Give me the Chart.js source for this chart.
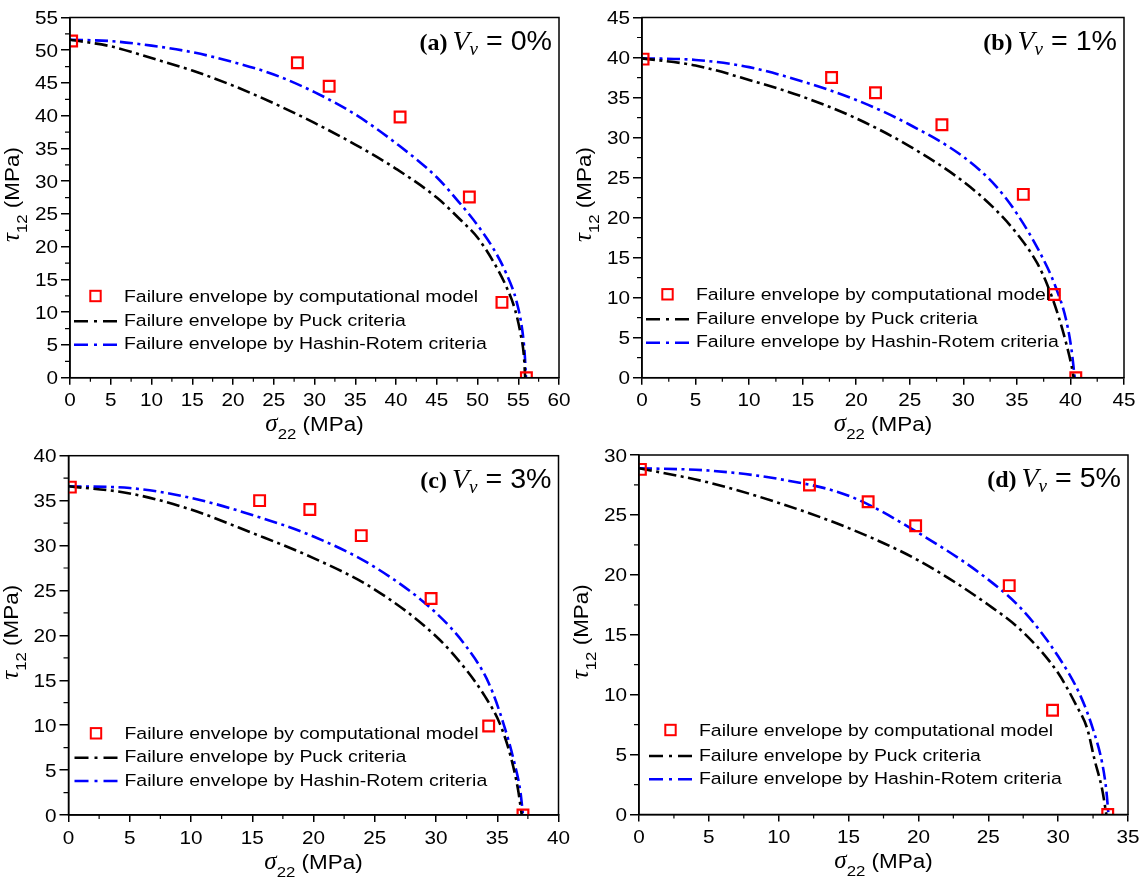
<!DOCTYPE html>
<html lang="en">
<head>
<meta charset="UTF-8">
<title>Failure envelopes for different void contents</title>
<script src="https://cdn.jsdelivr.net/npm/chart.js"></script>
<style>
  body { margin: 0; background: #fff; width: 1146px; height: 877px; overflow: hidden; position: relative; }
  canvas { position: absolute; }
</style>
</head>
<body>
<canvas id="ca"></canvas>
<canvas id="cb"></canvas>
<canvas id="cc"></canvas>
<canvas id="cd"></canvas>
<script>
// ---------------- data ----------------
const panelTags = ['(a)', '(b)', '(c)', '(d)'];
const voidLabels = ['0%', '1%', '3%', '5%'];
const xMax = [60, 45, 40, 35];
const yMax = [55, 45, 40, 30];
const tickStep = 5;
const seriesLabels = [
    'Failure envelope by computational model',
    'Failure envelope by Puck criteria',
    'Failure envelope by Hashin-Rotem criteria'
];

// (a) Vv = 0%
const aModelX = [0.2, 27.9, 31.8, 40.5, 49.0, 53.0, 56.0];
const aModelY = [51.4, 48.1, 44.5, 39.8, 27.6, 11.5, 0];
const aPuckX = [0, 5, 10, 15, 20, 25, 30, 35, 40, 45, 48, 50, 52, 53.5, 54.6, 55.3, 55.7, 55.85];
const aPuckY = [51.6, 50.6, 48.8, 46.9, 44.6, 41.9, 38.9, 35.6, 31.9, 27.5, 24.0, 21.4, 17.6, 14.0, 10.4, 6.6, 3.2, 0];
const aHashinX = [0, 5, 10, 15, 20, 25, 30, 35, 40, 45, 48, 50, 52, 53.5, 54.8, 55.5, 55.8, 55.95];
const aHashinY = [51.6, 51.4, 50.7, 49.7, 48.2, 46.3, 43.6, 40.2, 35.8, 30.6, 26.4, 23.3, 19.6, 16.0, 11.6, 7.2, 3.5, 0];

// (b) Vv = 1%
const bModelX = [0.1, 17.7, 21.8, 28.0, 35.6, 38.5, 40.5];
const bModelY = [39.8, 37.5, 35.6, 31.6, 22.9, 10.4, 0];
const bPuckX = [0, 5, 10, 15, 20, 25, 30, 33, 35, 36.9, 37.9, 38.9, 39.6, 40.1, 40.3];
const bPuckY = [39.9, 39.0, 37.2, 35.1, 32.4, 28.9, 24.5, 21.0, 18.0, 14.3, 11.4, 7.6, 4.3, 1.5, 0];
const bHashinX = [0, 5, 10, 15, 20, 25, 30, 33, 35, 37.2, 38.6, 39.6, 40.1, 40.4];
const bHashinY = [39.9, 39.7, 38.8, 37.0, 34.7, 31.6, 27.6, 24.0, 20.5, 15.5, 11.4, 7.2, 3.5, 0];

// (c) Vv = 3%
const cModelX = [0.15, 15.6, 19.7, 23.9, 29.6, 34.3, 37.1];
const cModelY = [36.5, 35.0, 34.0, 31.1, 24.1, 9.9, 0];
const cPuckX = [0, 5, 10, 15, 20, 25, 30, 32.5, 34, 35.2, 36.1, 36.7, 37.0];
const cPuckY = [36.6, 35.8, 34.0, 31.4, 28.6, 25.1, 19.9, 16.1, 13.2, 10.2, 6.5, 2.8, 0];
const cHashinX = [0, 5, 10, 15, 20, 25, 30, 32.5, 34.3, 35.5, 36.4, 36.9, 37.1];
const cHashinY = [36.6, 36.4, 35.3, 33.4, 31.0, 27.6, 22.5, 18.7, 14.7, 10.2, 5.8, 2.5, 0];

// (d) Vv = 5%
const dModelX = [0.1, 12.2, 16.4, 19.8, 26.5, 29.6, 33.55];
const dModelY = [28.8, 27.5, 26.1, 24.1, 19.1, 8.7, 0];
const dPuckX = [0, 5, 10, 15, 20, 25, 27.5, 30, 31.3, 32.1, 32.6, 33.15, 33.45];
const dPuckY = [28.9, 27.7, 26.0, 23.9, 21.2, 17.5, 15.2, 11.8, 9.1, 7.1, 4.6, 2.1, 0];
const dHashinX = [0, 5, 10, 15, 20, 25, 27.5, 30, 31.6, 32.5, 33.15, 33.45, 33.6];
const dHashinY = [28.9, 28.7, 28.0, 26.6, 23.5, 19.6, 17.0, 13.2, 9.9, 7.1, 4.3, 2.0, 0];

// ---------------- layout & style ----------------
const FONT_SANS = '"Liberation Sans", Arial, sans-serif';
const FONT_SERIF = '"Liberation Serif", "Times New Roman", serif';
const TEXT_SX = 1.12;   // the figure's lettering is a bit wide

// canvas box on the page and wanted plot area [left, top, right, bottom] in page px
// (top canvases run a little into the lower row so the x-title subscript is not cut; canvases are transparent)
const boxes = [
    { id: 'ca', left: 0,   top: 0,   width: 573, height: 450, plot: [70, 17.5, 559, 377.7],  legendDx: 0, legendRows: [-81.7, -57.5, -34] },
    { id: 'cb', left: 573, top: 0,   width: 573, height: 450, plot: [642, 17.5, 1124, 377.7], legendDx: 0, legendRows: [-83.4, -59.4, -36] },
    { id: 'cc', left: 0,   top: 438, width: 573, height: 439, plot: [68.5, 455.7, 558.5, 815], legendDx: 2, legendRows: [-81.7, -58.3, -35] },
    { id: 'cd', left: 573, top: 438, width: 573, height: 439, plot: [639, 455, 1128, 814.5],  legendDx: 6, legendRows: [-84.5, -59.5, -36.2] }
];

const panels = [
    [aModelX, aModelY, aPuckX, aPuckY, aHashinX, aHashinY],
    [bModelX, bModelY, bPuckX, bPuckY, bHashinX, bHashinY],
    [cModelX, cModelY, cPuckX, cPuckY, cHashinX, cHashinY],
    [dModelX, dModelY, dPuckX, dPuckY, dHashinX, dHashinY]
];

function zip(xs, ys) {
    return xs.map((x, i) => ({ x: x, y: ys[i] }));
}

// draws a run of text pieces, each with its own font, horizontal stretch and baseline shift
function drawRich(ctx, pieces, x, y, align) {
    let total = 0;
    pieces.forEach(p => {
        ctx.font = p.font;
        p.w = ctx.measureText(p.t).width * (p.sx || 1);
        total += p.w;
    });
    let cx = align === 'right' ? x - total : (align === 'center' ? x - total / 2 : x);
    pieces.forEach(p => {
        ctx.save();
        ctx.font = p.font;
        ctx.translate(cx, y + (p.dy || 0));
        ctx.scale(p.sx || 1, 1);
        ctx.fillText(p.t, 0, 0);
        ctx.restore();
        cx += p.w;
    });
}

const sans = s => s + 'px ' + FONT_SANS;

const decorPlugin = {
    id: 'decor',
    afterDraw(chart, args, opts) {
        const i = opts.panel;
        const box = boxes[i];
        const ctx = chart.ctx;
        const a = chart.chartArea;
        const xs = chart.scales.x, ys = chart.scales.y;
        ctx.save();
        ctx.fillStyle = '#000';
        ctx.strokeStyle = '#000';
        ctx.textAlign = 'left';
        ctx.textBaseline = 'alphabetic';

        // plot frame
        ctx.setLineDash([]);
        ctx.lineWidth = 1.5;
        ctx.strokeRect(a.left, a.top, a.right - a.left, a.bottom - a.top);

        // minor ticks between the major ones
        ctx.lineWidth = 1.2;
        ctx.beginPath();
        for (let v = tickStep / 2; v < xs.max; v += tickStep) {
            const px = xs.getPixelForValue(v);
            ctx.moveTo(px, a.bottom);
            ctx.lineTo(px, a.bottom + 4);
        }
        for (let v = tickStep / 2; v < ys.max; v += tickStep) {
            const py = ys.getPixelForValue(v);
            ctx.moveTo(a.left, py);
            ctx.lineTo(a.left - 5, py);
        }
        ctx.stroke();

        // tick labels
        xs.ticks.forEach(t => drawRich(ctx, [{ t: String(t.value), font: sans(18.5), sx: TEXT_SX }],
            xs.getPixelForValue(t.value), a.bottom + 28.5, 'center'));
        ys.ticks.forEach(t => drawRich(ctx, [{ t: String(t.value), font: sans(18.5), sx: TEXT_SX }],
            a.left - 12, ys.getPixelForValue(t.value) + 6.5, 'right'));

        // x title: sigma_22 (MPa)
        drawRich(ctx, [
            { t: 'σ', font: 'italic 25px ' + FONT_SERIF },
            { t: '22', font: sans(15), sx: TEXT_SX, dy: 8 },
            { t: ' (MPa)', font: sans(19.5), sx: 1.15 }
        ], (a.left + a.right) / 2, a.bottom + 53.5, 'center');

        // y title: tau_12 (MPa), rotated
        ctx.save();
        ctx.translate(a.left - 51, (a.top + a.bottom) / 2 - 3);
        ctx.rotate(-Math.PI / 2);
        drawRich(ctx, [
            { t: 'τ', font: 'italic 25px ' + FONT_SERIF },
            { t: '12', font: sans(15), sx: TEXT_SX, dy: 8 },
            { t: ' (MPa)', font: sans(19.5), sx: 1.15 }
        ], 0, 0, 'center');
        ctx.restore();

        // panel annotation: (a) V_v = 0%
        drawRich(ctx, [
            { t: panelTags[i], font: 'bold 24px ' + FONT_SERIF },
            { t: ' ', font: 'bold 20px ' + FONT_SERIF },
            { t: 'V', font: 'italic 28px ' + FONT_SERIF },
            { t: 'v', font: 'italic 19px ' + FONT_SERIF, dy: 5 },
            { t: ' = ' + voidLabels[i], font: sans(27), sx: 1.06 }
        ], a.right - 7, a.top + 32, 'right');

        // legend inside the plot, lower left
        const ds = chart.data.datasets;
        const lx = a.left + box.legendDx;
        ds.forEach((d, k) => {
            const ry = a.bottom + box.legendRows[k];
            if (k === 0) {
                ctx.setLineDash([]);
                ctx.lineWidth = 2;
                ctx.strokeStyle = d.borderColor;
                ctx.strokeRect(lx + 25.5 - 5.2, ry - 5.2, 10.4, 10.4);
            } else {
                ctx.setLineDash([14, 6, 3, 6]);
                ctx.lineWidth = 2.5;
                ctx.strokeStyle = d.borderColor;
                ctx.beginPath();
                ctx.moveTo(lx + 4, ry + 1);
                ctx.lineTo(lx + 48.5, ry + 1);
                ctx.stroke();
            }
            ctx.textBaseline = 'middle';
            drawRich(ctx, [{ t: d.label, font: sans(17.2), sx: 1.13 }], lx + 54, ry + 1, 'left');
            ctx.textBaseline = 'alphabetic';
        });
        ctx.restore();
    }
};

panels.forEach((p, i) => {
    const box = boxes[i];
    const canvas = document.getElementById(box.id);
    canvas.width = box.width;
    canvas.height = box.height;
    canvas.style.left = box.left + 'px';
    canvas.style.top = box.top + 'px';
    const [pl, pt, pr, pb] = box.plot;

    const axisCommon = {
        type: 'linear',
        ticks: { stepSize: tickStep, display: false },
        grid: { drawOnChartArea: false, drawTicks: true, tickColor: '#000', tickWidth: 1.5, color: '#000', lineWidth: 1.5 },
        border: { display: true, color: '#000', width: 1.5 }
    };

    new Chart(canvas.getContext('2d'), {
        type: 'scatter',
        data: {
            datasets: [
                {
                    label: seriesLabels[0],
                    data: zip(p[0], p[1]),
                    showLine: false,
                    pointStyle: 'rect',
                    pointRadius: 7.6,
                    pointBorderWidth: 2.2,
                    borderColor: '#ff0000',
                    backgroundColor: 'rgba(0,0,0,0)',
                    clip: 0
                },
                {
                    label: seriesLabels[1],
                    data: zip(p[2], p[3]),
                    showLine: true,
                    pointRadius: 0,
                    borderColor: '#000000',
                    borderWidth: 2.6,
                    borderDash: [13, 4.5, 3, 4.5],
                    cubicInterpolationMode: 'monotone',
                    clip: 0
                },
                {
                    label: seriesLabels[2],
                    data: zip(p[4], p[5]),
                    showLine: true,
                    pointRadius: 0,
                    borderColor: '#0000ff',
                    borderWidth: 2.6,
                    borderDash: [13, 4.5, 3, 4.5],
                    cubicInterpolationMode: 'monotone',
                    clip: 0
                }
            ]
        },
        options: {
            responsive: false,
            animation: false,
            events: [],
            layout: { padding: { left: 0, top: pt - box.top, right: box.left + box.width - pr, bottom: 0 } },
            scales: {
                x: Object.assign({}, axisCommon, {
                    min: 0, max: xMax[i],
                    grid: Object.assign({}, axisCommon.grid, { tickLength: 7 }),
                    afterFit(s) { s.height = box.top + box.height - pb; s.paddingLeft = 0; s.paddingRight = 0; }
                }),
                y: Object.assign({}, axisCommon, {
                    min: 0, max: yMax[i],
                    grid: Object.assign({}, axisCommon.grid, { tickLength: 9 }),
                    afterFit(s) { s.width = pl - box.left; s.paddingTop = 0; s.paddingBottom = 0; }
                })
            },
            plugins: {
                legend: { display: false },
                tooltip: { enabled: false },
                decor: { panel: i }
            }
        },
        plugins: [decorPlugin]
    });
});
</script>
</body>
</html>
